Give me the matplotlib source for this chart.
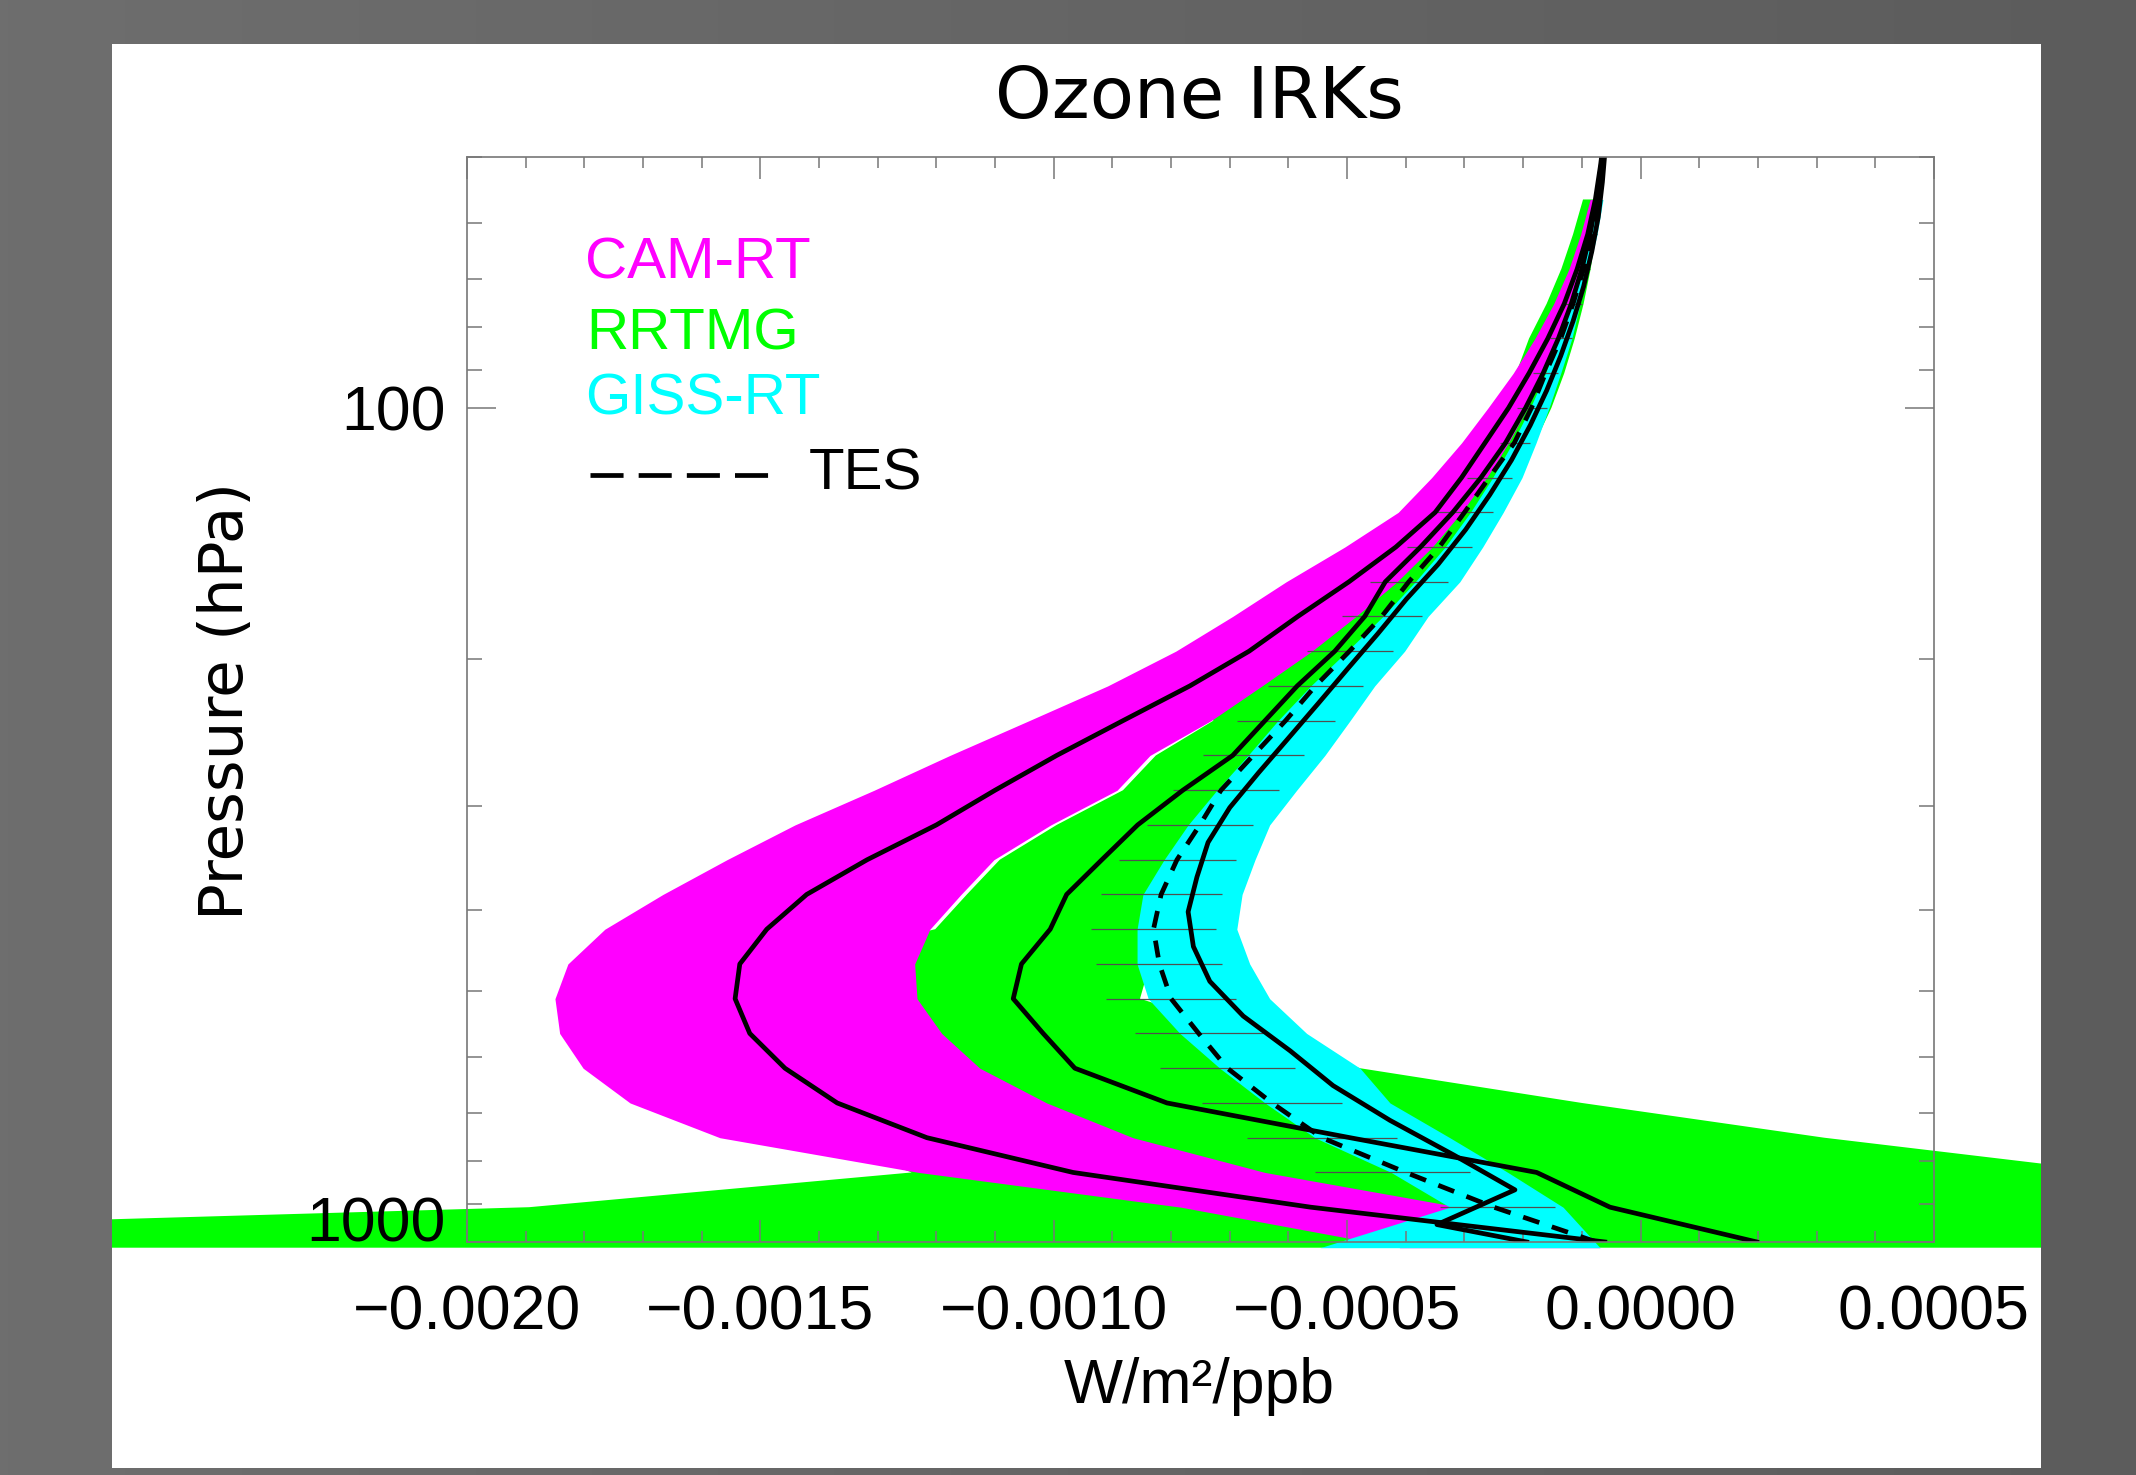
import numpy as np
import matplotlib
matplotlib.use("Agg")
import matplotlib.pyplot as plt
from matplotlib.patches import Rectangle
from matplotlib.colors import LinearSegmentedColormap
from matplotlib.ticker import MultipleLocator, FuncFormatter, NullFormatter, LogLocator

plt.rcParams['font.family'] = ['Liberation Sans', 'DejaVu Sans']

# pressure levels (hPa), TES grid
p_lev = [1000.0, 908.5, 825.4, 749.9, 681.3, 619.0, 562.3, 510.9, 464.2, 421.7,
         383.1, 348.1, 316.2, 287.3, 261.0, 237.1, 215.4, 195.7, 177.8, 161.6,
         146.8, 133.4, 121.2, 110.1, 100.0, 90.85, 82.54, 74.99, 68.13, 61.90,
         56.23, 51.09, 46.42]
p_sfc = 1016.0
# GISS mean is on the intermediate levels
p_giss = [1000.0, 953.2, 866.0, 786.8, 714.8, 649.4, 590.0, 536.0, 487.0, 442.4,
          401.9, 365.2, 331.8, 301.4, 273.8, 248.8, 226.0, 205.4, 186.6, 169.5,
          154.0, 139.9, 127.1, 115.5, 104.9, 95.3, 86.6, 78.7, 71.5, 64.9,
          59.0, 53.6, 48.7]

# kernels in 1e-4 W/m2/ppb
cam_mean = [-0.61, -5.62, -9.67, -12.16, -13.69, -14.58, -15.18, -15.43, -15.35, -14.89,
            -14.21, -13.18, -12.0, -11.0, -9.95, -8.82, -7.68, -6.67, -5.84, -4.97,
            -4.17, -3.50, -3.05, -2.65, -2.25, -1.90, -1.58, -1.30, -1.08, -0.90,
            -0.77, -0.68, -0.61]
rrtmg_mean = [1.98, -0.52, -1.77, -4.95, -8.07, -9.64, -10.18, -10.69, -10.55, -10.06,
              -9.78, -9.18, -8.57, -7.80, -6.95, -6.40, -5.85, -5.21, -4.70, -4.35,
              -3.75, -3.20, -2.72, -2.30, -1.96, -1.66, -1.40, -1.18, -1.00, -0.86,
              -0.75, -0.67, -0.61]
giss_mean = [-1.94, -3.47, -2.14, -3.18, -4.27, -5.24, -5.97, -6.77, -7.34, -7.62,
             -7.71, -7.56, -7.37, -7.00, -6.51, -6.00, -5.49, -4.99, -4.48, -3.99,
             -3.45, -2.98, -2.57, -2.20, -1.88, -1.60, -1.36, -1.15, -0.97, -0.83,
             -0.72, -0.65, -0.60]
tes = [-0.75, -2.50, -4.00, -5.43, -6.28, -7.04, -7.53, -8.00, -8.20, -8.30,
       -8.17, -7.90, -7.51, -7.15, -6.60, -6.05, -5.54, -4.96, -4.41, -3.95,
       -3.43, -3.00, -2.58, -2.15, -1.86, -1.62, -1.36, -1.15, -0.97, -0.82,
       -0.72, -0.65, -0.60]

# ranges (levels sfc .. 56 hPa)
mag_lo = [-4.10, -7.83, -12.3, -15.69, -17.22, -18.02, -18.42, -18.50, -18.28, -17.65,
          -16.66, -15.57, -14.41, -13.06, -11.77, -10.42, -9.08, -7.92, -6.95, -6.04,
          -5.04, -4.13, -3.56, -3.05, -2.60, -2.17, -1.80, -1.48, -1.22, -1.02, -0.86]
mag_hi = [-0.69, -3.08, -6.40, -8.65, -10.12, -11.26, -11.91, -12.33, -12.37, -12.11,
          -11.58, -11.02, -10.05, -8.92, -8.36, -7.32, -6.45, -5.60, -4.85, -4.15,
          -3.55, -3.05, -2.62, -2.25, -1.93, -1.65, -1.40, -1.19, -1.01, -0.87, -0.76]
grn_lo = [-42.8, -18.94, -12.42, -14.0, -14.5, -14.5, -14.5, -14.5, -14.5, -12.02,
          -11.48, -10.92, -9.95, -8.82, -8.26, -7.28, -7.5, -6.5, -5.8, -5.2,
          -4.5, -3.8, -3.2, -2.75, -2.35, -2.12, -1.90, -1.60, -1.35, -1.15, -0.98]
grn_hi = [16.35, 12.94, 8.10, 3.13, -1.00, -4.78, -6.66, -8.53, -8.36, -8.19,
          -7.94, -7.60, -7.17, -6.75, -6.24, -5.73, -5.13, -4.53, -4.02, -3.42,
          -2.91, -2.48, -2.09, -1.80, -1.52, -1.30, -1.12, -0.97, -0.85, -0.76, -0.71]
cyn_lo = [-5.46, -3.25, -4.25, -5.55, -6.40, -7.17, -7.85, -8.39, -8.58, -8.58,
          -8.48, -8.12, -7.71, -7.22, -6.69, -6.18, -5.62, -5.00, -4.39, -3.84,
          -3.33, -2.90, -2.52, -2.18, -1.88, -1.62, -1.40, -1.21, -1.04, -0.89, -0.77]
cyn_hi = [-0.69, -1.32, -2.26, -3.25, -4.27, -4.78, -5.69, -6.32, -6.66, -6.88,
          -6.79, -6.57, -6.32, -5.86, -5.38, -4.95, -4.53, -4.02, -3.62, -3.08,
          -2.69, -2.34, -2.02, -1.78, -1.56, -1.36, -1.17, -1.03, -0.88, -0.74, -0.64]

# TES spread, drawn as horizontal lines (908 .. 62 hPa)
tes_lo = [-3.42, -5.55, -6.71, -7.47, -8.19, -8.62, -9.11, -9.28, -9.37, -9.20,
          -8.89, -8.41, -7.97, -7.46, -6.88, -6.35, -5.69, -5.09, -4.61, -3.98,
          -3.47, -2.96, -2.40, -2.11, -1.83, -1.54, -1.29, -1.07, -0.90]
tes_hi = [-1.46, -2.91, -4.15, -5.09, -5.89, -6.43, -6.90, -7.13, -7.24, -7.13,
          -6.90, -6.61, -6.16, -5.74, -5.21, -4.73, -4.22, -3.73, -3.28, -2.87,
          -2.52, -2.19, -1.89, -1.60, -1.41, -1.17, -1.00, -0.86, -0.74]

sc = 1e-4
p_band = np.r_[p_sfc, p_lev[1:31]]
p_hatch = p_lev[1:30]
lw = 3.4

fig = plt.figure(figsize=(21.36, 14.75), dpi=100)

# slide background + white panel
bg = fig.add_axes([0, 0, 1, 1])
bg.set_axis_off()
cmap = LinearSegmentedColormap.from_list('slide', ['#6e6e6e', '#5c5c5c'])
bg.imshow(np.linspace(0, 1, 256)[None, :], cmap=cmap, extent=[0, 1, 0, 1], aspect='auto')
bg.set_xlim(0, 1)
bg.set_ylim(0, 1)
panel = Rectangle((0.0524, 0.0048), 0.9031, 0.9654, facecolor='white', edgecolor='none')
bg.add_patch(panel)

ax = fig.add_axes([0.2186, 0.158, 0.6868, 0.7356])
ax.set_facecolor('none')

g = ax.fill_betweenx(p_band, np.array(grn_lo) * sc, np.array(grn_hi) * sc,
                     color='#00ff00', lw=0, zorder=1.0)
m = ax.fill_betweenx(p_band, np.array(mag_lo) * sc, np.array(mag_hi) * sc,
                     color='#ff00ff', lw=0, zorder=1.1)
c = ax.fill_betweenx(p_band, np.array(cyn_lo) * sc, np.array(cyn_hi) * sc,
                     color='#00ffff', lw=0, zorder=1.2)
for band in (g, m, c):
    band.set_clip_path(panel)

ax.hlines(p_hatch, np.array(tes_lo) * sc, np.array(tes_hi) * sc,
          colors='#505050', lw=0.9, zorder=1.5)

ax.plot(np.array(cam_mean) * sc, p_lev, color='k', lw=lw, zorder=2)
ax.plot(np.array(rrtmg_mean) * sc, p_lev, color='k', lw=lw, zorder=2)
ax.plot(np.array(giss_mean) * sc, p_giss, color='k', lw=lw, zorder=2)
ax.plot(np.array(tes) * sc, p_lev, color='k', lw=lw, dashes=(3.6, 2.8), zorder=2)

ax.set_yscale('log')
ax.set_ylim(1000, 50)
ax.set_xlim(-0.0020, 0.0005)

ax.xaxis.set_major_locator(MultipleLocator(0.0005))
ax.xaxis.set_minor_locator(MultipleLocator(0.0001))
ax.xaxis.set_major_formatter(FuncFormatter(
    lambda v, pos: f"{round(v, 8) + 0.0:.4f}".replace('-', '\u2212')))
ax.set_yticks([100, 1000], labels=['100', '1000'])
ax.yaxis.set_minor_locator(LogLocator(base=10, subs=np.arange(2, 10), numticks=12))
ax.yaxis.set_minor_formatter(NullFormatter())
ax.get_yticklabels()[1].set_va('baseline')

tick_col = '#777777'
ax.tick_params(which='both', direction='in', top=True, right=True,
               color=tick_col, width=1.1, labelsize=45)
ax.tick_params(axis='x', which='major', length=15.6, pad=30)
ax.tick_params(axis='x', which='minor', length=7.8)
ax.tick_params(axis='y', which='major', length=21, pad=15.5)
ax.tick_params(axis='y', which='minor', length=10.5)
for s in ax.spines.values():
    s.set_color(tick_col)
    s.set_linewidth(1.2)
    s.set_zorder(3)

ax.set_title('Ozone IRKs', fontsize=52, family='DejaVu Sans', x=0.499, y=1.046, va='center')
ax.set_xlabel('W/m\u00b2/ppb', fontsize=45, va='center')
ax.xaxis.set_label_coords(0.499, -0.133)
ax.set_ylabel('Pressure (hPa)', fontsize=44, family='DejaVu Sans', va='center')
ax.yaxis.set_label_coords(-0.1636, 0.4986)

# legend
ax.text(0.0804, 0.9015, 'CAM-RT', color='#ff00ff', fontsize=42, transform=ax.transAxes,
        ha='left', va='center')
ax.text(0.0815, 0.8365, 'RRTMG', color='#00ff00', fontsize=42, transform=ax.transAxes,
        ha='left', va='center')
ax.text(0.0804, 0.7766, 'GISS-RT', color='#00ffff', fontsize=42, transform=ax.transAxes,
        ha='left', va='center')
ax.plot([0.0838, 0.2052], [0.707, 0.707], color='k', lw=lw, dashes=(7.0, 3.2),
        transform=ax.transAxes, dash_capstyle='butt')
ax.text(0.2331, 0.7074, 'TES', color='k', fontsize=42, transform=ax.transAxes,
        ha='left', va='center')

fig.savefig('out.png', dpi=100)
